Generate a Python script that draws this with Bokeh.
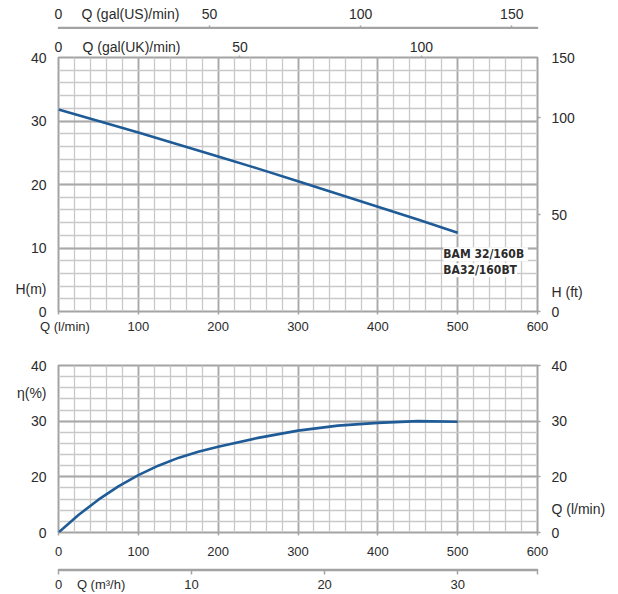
from bokeh.plotting import figure
from bokeh.models import LinearAxis, Range1d, FixedTicker, Label, Grid
from bokeh.layouts import column
from bokeh.embed import file_html
from bokeh.resources import INLINE

# ---------------- data ----------------
q_head = [0, 50, 100, 150, 200, 250, 300, 350, 400, 450, 500]          # l/min
head_m = [31.8, 30.0, 28.2, 26.3, 24.4, 22.5, 20.5, 18.5, 16.5, 14.5, 12.4]

q_eff = [0, 25, 50, 75, 100, 125, 150, 175, 200, 250, 300, 350, 400, 450, 500]
eff_pct = [0, 6.3, 11.8, 16.6, 20.3, 22.0, 23.4, 24.5, 25.4, 27.0, 28.3, 29.2, 29.7, 30.0, 29.9]

q_ticks = [0, 100, 200, 300, 400, 500, 600]
q_minor = list(range(0, 601, 20))
h_ticks = [0, 10, 20, 30, 40]
h_minor = list(range(0, 41, 2))
ft_ticks = [0, 50, 100, 150]
us_ticks = [0, 50, 100, 150]
uk_ticks = [0, 50, 100]
m3_ticks = [0, 10, 20, 30]
eff_ticks = [0, 20, 30, 40]

Q_MAX = 600
H_MAX = 40
M_TO_FT = 3.28084
L_PER_USGAL = 3.78541
L_PER_UKGAL = 4.54609
M3H_PER_LMIN = 60 / 1000

# positions (axis units) where the axis titles sit on the tick-label rows
US_TITLE_AT = 23.8      # gal(US)/min
UK_TITLE_AT = 20.1      # gal(UK)/min
QL_TITLE_AT = 8.1       # l/min
M3_TITLE_AT = 3.2       # m3/h
HM_TITLE_AT = 3.6       # m
HFT_TITLE_AT = 3.0 * M_TO_FT
ETA_TITLE_AT = 35.0
QR_TITLE_AT = 14.2

FONT = "Liberation Sans"
TXT = "#2b2b2b"
GRID_MAJ = "#a9a9a9"
GRID_MIN = "#c9c9c9"
AX = "#a3a3a3"
CURVE = "#1f5c97"


def eff_plot(e):
    # the efficiency axis of the original is compressed below 20 %
    return e if e >= 20 else 10 + e / 2.0


def make_axis(ticks, marks, labels, size="13px", standoff=4, mark_len=3, **kw):
    ax = LinearAxis(ticker=FixedTicker(ticks=ticks, minor_ticks=marks), **kw)
    ax.major_label_text_font = FONT
    ax.major_label_text_font_size = size
    ax.major_label_text_color = TXT
    ax.major_label_overrides = labels
    ax.major_tick_in = 0
    ax.major_tick_out = 0
    ax.major_tick_line_color = AX
    ax.minor_tick_in = 0
    ax.minor_tick_out = mark_len
    ax.minor_tick_line_color = AX
    ax.minor_tick_line_width = 1.5
    ax.major_label_standoff = standoff
    ax.axis_line_color = None
    return ax


def base_fig(height, x_range, y_range, top, bottom):
    p = figure(width=618, height=height, x_range=x_range, y_range=y_range,
               output_backend="svg", toolbar_location=None,
               x_axis_type=None, y_axis_type=None,
               min_border_left=58, min_border_right=81,
               min_border_top=top, min_border_bottom=bottom)
    p.outline_line_color = AX
    p.outline_line_width = 2
    p.background_fill_color = "white"
    p.border_fill_color = "white"
    return p


def grid(p, xt, xm, yt, ym):
    for dim, t, m in ((0, xt, xm), (1, yt, ym)):
        g = Grid(dimension=dim, ticker=FixedTicker(ticks=t, minor_ticks=m))
        g.grid_line_color = GRID_MAJ
        g.grid_line_width = 1.8
        g.minor_grid_line_color = GRID_MIN
        g.minor_grid_line_width = 1.3
        p.add_layout(g)


def numlabels(vals):
    return {v: str(v) for v in vals}


# ---------------- US gallon scale (thin strip; its frame edge is the scale line) ----------------
us_fig = base_fig(29, Range1d(0, Q_MAX / L_PER_USGAL), Range1d(0, 1), 27, 0)
us_fig.outline_line_width = 1.5
lab = numlabels(us_ticks)
lab[US_TITLE_AT] = "Q (gal(US)/min)"
us_fig.add_layout(make_axis(us_ticks + [US_TITLE_AT], us_ticks[1:], lab, size="14px",
                            standoff=4, mark_len=2), "above")

# ---------------- top: head ----------------
top = base_fig(307, Range1d(0, Q_MAX), Range1d(0, H_MAX), 28, 25)
grid(top, q_ticks, q_minor, h_ticks, h_minor)

lab = numlabels(q_ticks)
lab[0] = ""
lab[QL_TITLE_AT] = "Q (l/min)"
top.add_layout(make_axis(q_ticks + [QL_TITLE_AT], q_ticks, lab, standoff=4), "below")

lab = numlabels(h_ticks)
lab[HM_TITLE_AT] = "H(m)"
top.add_layout(make_axis(h_ticks + [HM_TITLE_AT], [], lab, size="14px", standoff=12), "left")

top.extra_y_ranges = {"ft": Range1d(0, H_MAX * M_TO_FT)}
ft_pos = [0, 50, 100, H_MAX * M_TO_FT]
lab = {ft_pos[i]: str(ft_ticks[i]) for i in range(4)}
lab[HFT_TITLE_AT] = "H (ft)"
top.add_layout(make_axis(ft_pos + [HFT_TITLE_AT], ft_pos[:3], lab, size="14px",
                         standoff=11, y_range_name="ft"), "right")

top.extra_x_ranges = {"uk": Range1d(0, Q_MAX / L_PER_UKGAL)}
lab = numlabels(uk_ticks)
lab[UK_TITLE_AT] = "Q (gal(UK)/min)"
top.add_layout(make_axis(uk_ticks + [UK_TITLE_AT], uk_ticks[1:], lab, size="14px",
                         standoff=1, mark_len=2, x_range_name="uk"), "above")

top.line(q_head, head_m, line_color=CURVE, line_width=2.6)

for yv, t in ((9.0, "BAM  32/160B"), (6.5, "BA32/160BT")):
    top.add_layout(Label(x=482, y=yv, text=t, text_align="left", text_baseline="middle",
                         text_font="DejaVu Sans Condensed", text_font_size="12px",
                         text_font_style="bold", text_color=TXT,
                         background_fill_color="white"))

# ---------------- bottom: efficiency ----------------
eff_pos = [eff_plot(e) for e in eff_ticks]
bot = base_fig(224, Range1d(0, Q_MAX), Range1d(eff_pos[0], eff_pos[-1]), 29, 28)
grid(bot, q_ticks, q_minor, eff_pos, [eff_pos[0] + 2 * i for i in range(16)])

bot.add_layout(make_axis(q_ticks, q_ticks, numlabels(q_ticks), standoff=11), "below")

lab = {eff_pos[i]: str(eff_ticks[i]) for i in range(len(eff_ticks))}
lab[ETA_TITLE_AT] = "η(%)"
bot.add_layout(make_axis(eff_pos + [ETA_TITLE_AT], [], lab, size="14px", standoff=12), "left")

lab = {eff_pos[i]: str(eff_ticks[i]) for i in range(len(eff_ticks))}
lab[QR_TITLE_AT] = "Q (l/min)"
bot.add_layout(make_axis(eff_pos + [QR_TITLE_AT], eff_pos, lab, size="14px", standoff=11), "right")

bot.line(q_eff, [eff_plot(e) for e in eff_pct], line_color=CURVE, line_width=2.6)

# ---------------- m3/h scale (thin strip; its frame edge is the scale line) ----------------
M3_MAX = Q_MAX * M3H_PER_LMIN
m3_fig = base_fig(34, Range1d(0, M3_MAX), Range1d(0, 1), 9, 24)
m3_fig.outline_line_width = 1.5
lab = numlabels(m3_ticks)
lab[M3_TITLE_AT] = "Q (m³/h)"
m3_fig.add_layout(make_axis(m3_ticks + [M3_TITLE_AT], m3_ticks + [M3_MAX], lab,
                            standoff=2, mark_len=4), "below")

layout = column(us_fig, top, bot, m3_fig, spacing=0)
open("out.html", "w").write(file_html(layout, INLINE))
